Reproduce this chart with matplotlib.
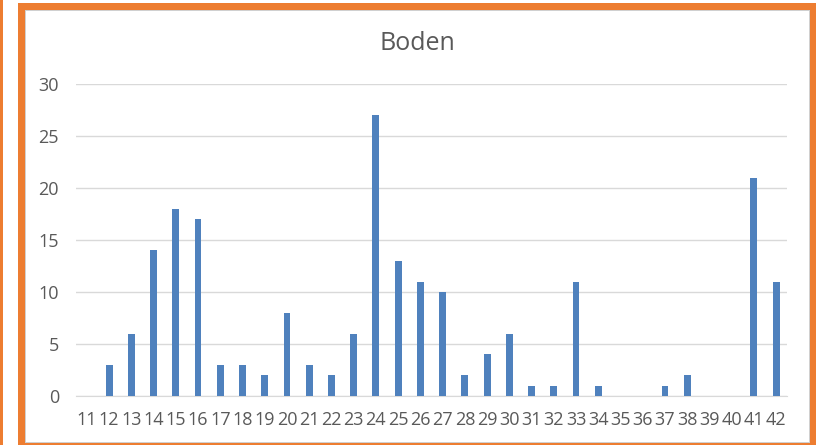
import numpy as np
import matplotlib
matplotlib.use('Agg')
import matplotlib.pyplot as plt
from matplotlib.patches import Rectangle

plt.rcParams['font.family'] = ['Open Sans', 'DejaVu Sans']

# Daten
categories = [str(c) for c in range(11, 43)]
values = [0, 3, 6, 14, 18, 17, 3, 3, 2, 8, 3, 2, 6, 27, 13, 11, 10, 2, 4, 6,
          1, 1, 11, 1, 0, 0, 1, 2, 0, 0, 21, 11]
y_ticks = [0, 5, 10, 15, 20, 25, 30]

W, H = 816, 445
fig = plt.figure(figsize=(W / 100, H / 100), dpi=100)

# Hintergrund-Achse fuer den Rahmen (Pixelkoordinaten, y von oben)
bg = fig.add_axes([0, 0, 1, 1], zorder=0)
bg.set_xlim(0, W)
bg.set_ylim(H, 0)
bg.axis('off')


def px_rect(x0, y0, x1, y1, color):
    bg.add_patch(Rectangle((x0, y0), x1 - x0, y1 - y0, color=color, lw=0))


orange = '#ED7D31'
px_rect(0, 0, 3, H, orange)
px_rect(18, 3, 816, 445, orange)
px_rect(25, 10, 810, 443, '#d0d0d0')
px_rect(26, 11, 809, 442, 'white')

ax = fig.add_axes([75.7 / W, 1 - 396 / H, (787.3 - 75.7) / W, (396 - 84) / H],
                  zorder=1)
ax.set_facecolor('none')
x = np.arange(len(categories))
ax.bar(x, values, width=0.31, color='#4F81BD', zorder=3)

ax.set_xlim(-0.5, len(categories) - 0.5)
ax.set_ylim(0, 30)
ax.set_yticks(y_ticks)
ax.set_xticks(x)
ax.set_xticklabels(categories)
ax.yaxis.grid(True, color='#d9d9d9', lw=1)
ax.set_axisbelow(True)
for s in ['top', 'right', 'left']:
    ax.spines[s].set_visible(False)
ax.spines['bottom'].set_color('#d9d9d9')
ax.tick_params(axis='both', length=0, labelsize=13, colors='#595959')
ax.tick_params(axis='x', pad=11)
ax.tick_params(axis='y', pad=12)

fig.text(417 / W, 1 - 44 / H, 'Boden', ha='center', va='center',
         fontsize=18, color='#595959', zorder=2)

fig.savefig('out.png', dpi=100)
